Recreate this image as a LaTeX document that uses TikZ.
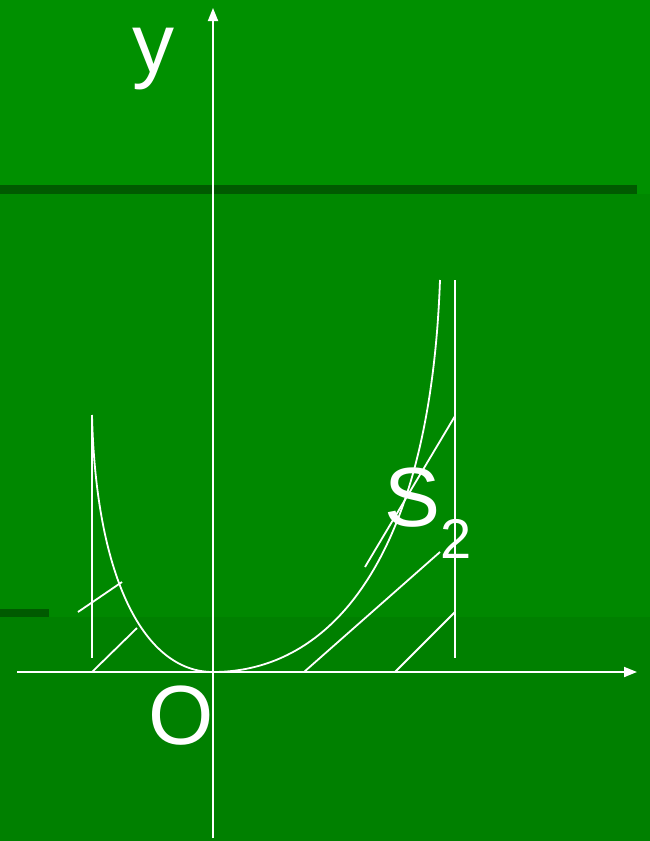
\documentclass[tikz,border=0pt]{standalone}
\usepackage{fontspec}
\setmainfont{Liberation Sans}
\usetikzlibrary{arrows.meta}
\definecolor{topgreen}{RGB}{0,144,0}
\definecolor{midgreen}{RGB}{0,136,0}
\definecolor{lowgreen}{RGB}{0,128,0}
\definecolor{bandgreen}{RGB}{0,90,0}

\begin{document}
\begin{tikzpicture}[x=1pt, y=-1pt, line join=round,
    wline/.style={white, line width=1.8pt},
    axis/.style={wline, -{Triangle[length=13pt,width=10pt]}},
    biglbl/.style={white, inner sep=0pt, font=\fontsize{84}{84}\selectfont}]
    % Background bands
    \fill[topgreen] (0,0) rectangle (650,194);
    \fill[midgreen] (0,194) rectangle (650,617);
    \fill[lowgreen] (0,617) rectangle (650,841);
    \fill[bandgreen] (0,185) rectangle (637,194);
    \fill[bandgreen] (0,609) rectangle (49,617);
    \useasboundingbox (0,0) rectangle (650,841);

    % Axes
    \coordinate (xs) at (17,672);
    \coordinate (xe) at (637,672);
    \coordinate (ys) at (213,838);
    \coordinate (ye) at (213,8);
    \draw[axis] (xs) -- (xe);
    \draw[axis] (ys) -- (ye);

    % Curve through the origin
    \coordinate (O) at (213,672);
    \coordinate (L) at (92,415);
    \coordinate (R) at (440,280);
    \draw[wline] (L) .. controls (96,580) and (145,672) .. (O)
                     .. controls (330,672) and (430,560) .. (R);

    % Vertical bounds
    \draw[wline] (92,415) -- (92,658);
    \draw[wline] (455,280) -- (455,658);

    % Hatch strokes
    \foreach \xa/\ya/\xb/\yb in {78/612/122/582, 92/672/137/628,
        304/672/440/552, 395/672/455/612, 365/567/455/416}
      \draw[wline] (\xa,\ya) -- (\xb,\yb);

    % Labels
    \node[biglbl, anchor=base] (ylbl) at (153.5,72) {y};
    \node[biglbl, anchor=base] (olbl) at (181,744) {O};
    \node[biglbl, anchor=base west] (slbl) at (384,526)
      {S\raisebox{-32pt}{\fontsize{56}{56}\selectfont 2}};
  \end{tikzpicture}
\end{document}
